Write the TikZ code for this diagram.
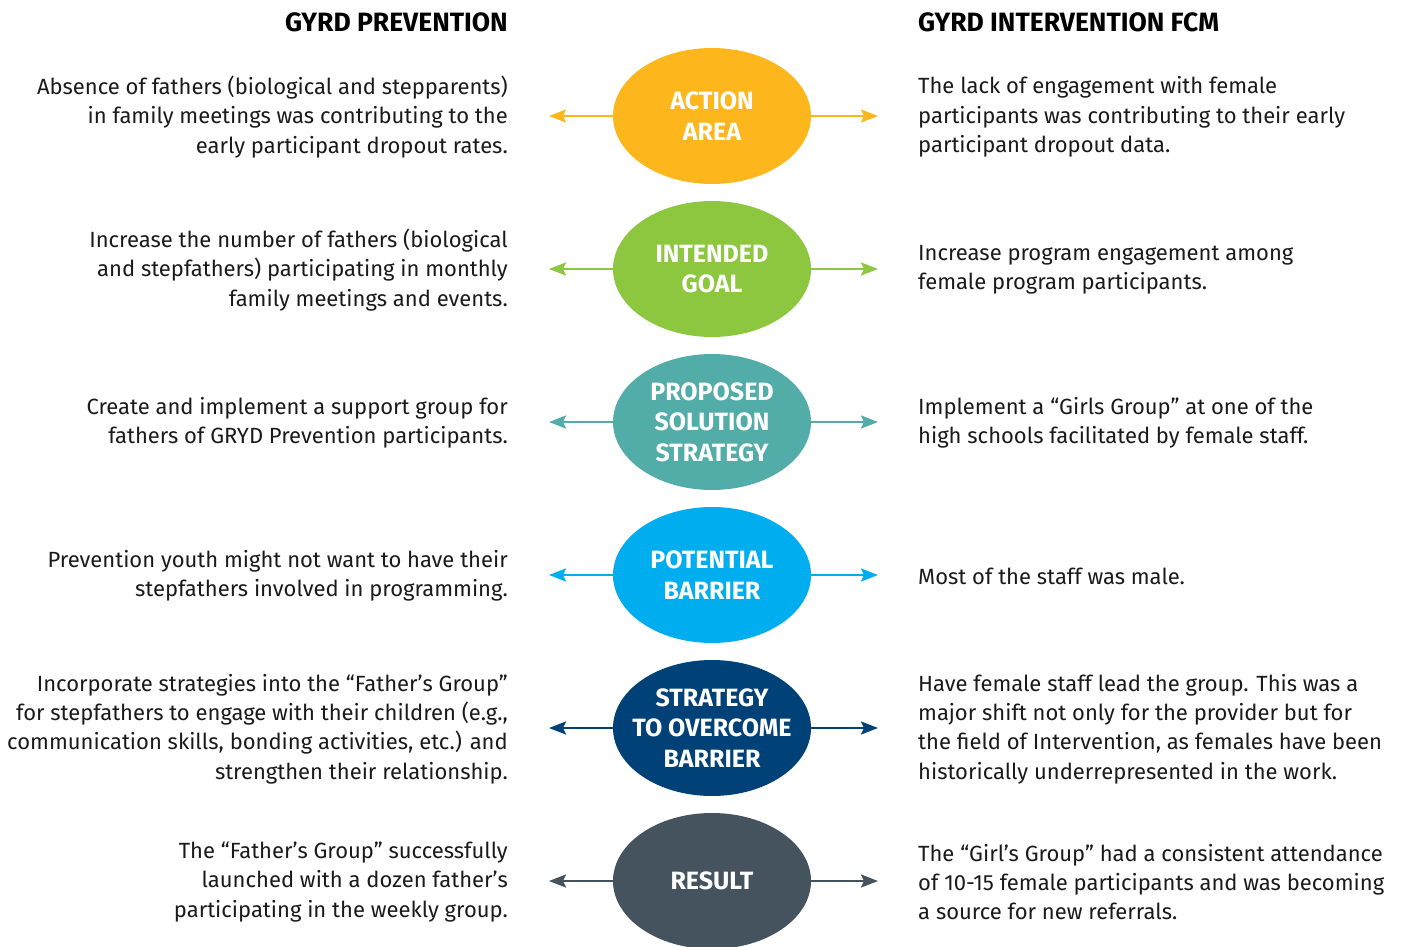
\documentclass[tikz,border=0pt]{standalone}
\usepackage{fontspec}
\setmainfont{Fira Sans}
\usetikzlibrary{arrows.meta,shapes.geometric}

\definecolor{cAction}{HTML}{FDB71C}
\definecolor{cGoal}{HTML}{8DC63F}
\definecolor{cSolution}{HTML}{52ADA8}
\definecolor{cBarrier}{HTML}{00AEEF}
\definecolor{cOvercome}{HTML}{004178}
\definecolor{cResult}{HTML}{45535E}
\definecolor{cText}{HTML}{1A1A1A}

\tikzset{
  % negative inner sep keeps every stage ellipse at the same size
  bubble/.style={ellipse, fill=#1, draw=none, minimum width=198pt, minimum height=136pt,
    inner xsep=-16pt, inner ysep=-6pt, text=white, align=center,
    font=\bfseries\fontsize{25}{30.5}\selectfont},
  lefttext/.style={anchor=east, align=right, inner sep=0pt, text=cText,
    font=\fontsize{22}{29.3}\selectfont},
  righttext/.style={anchor=west, align=left, inner sep=0pt, text=cText,
    font=\fontsize{22}{29.3}\selectfont},
  heading/.style={inner sep=0pt, text=black, font=\bfseries\fontsize{26.5}{30}\selectfont},
  link/.style={draw=#1, line width=2.3pt,
    -{Stealth[length=17pt,width=13pt,inset=3pt]}},
}

\begin{document}
\begin{tikzpicture}[x={(1pt,0pt)}, y={(0pt,-1pt)}]
\useasboundingbox (0,0) rectangle (1403,947);

% column headings
\node[heading, anchor=east] (hl) at (508,22) {GYRD PREVENTION};
\node[heading, anchor=west] (hr) at (918,22) {GYRD INTERVENTION FCM};

% central stages
\node[bubble=cAction]   (s1) at (712,116) {ACTION\\AREA};
\node[bubble=cGoal]     (s2) at (712,269) {INTENDED\\GOAL};
\node[bubble=cSolution] (s3) at (712,422) {PROPOSED\\SOLUTION\\STRATEGY};
\node[bubble=cBarrier]  (s4) at (712,575) {POTENTIAL\\BARRIER};
\node[bubble=cOvercome] (s5) at (712,728) {STRATEGY\\TO OVERCOME\\BARRIER};
\node[bubble=cResult]   (s6) at (712,881) {RESULT};

% arrow tips on both sides of each stage
\foreach \i/\y in {1/116,2/269,3/422,4/575,5/728,6/881}{
  \coordinate (l\i) at (549,\y);
  \coordinate (r\i) at (878,\y);
}
\draw[link=cAction]   (s1) -- (l1); \draw[link=cAction]   (s1) -- (r1);
\draw[link=cGoal]     (s2) -- (l2); \draw[link=cGoal]     (s2) -- (r2);
\draw[link=cSolution] (s3) -- (l3); \draw[link=cSolution] (s3) -- (r3);
\draw[link=cBarrier]  (s4) -- (l4); \draw[link=cBarrier]  (s4) -- (r4);
\draw[link=cOvercome] (s5) -- (l5); \draw[link=cOvercome] (s5) -- (r5);
\draw[link=cResult]   (s6) -- (l6); \draw[link=cResult]   (s6) -- (r6);

% GYRD Prevention column
\node[lefttext] (p1) at (508,117) {Absence of fathers (biological and stepparents)\\in family meetings was contributing to the\\early participant dropout rates.};
\node[lefttext] (p2) at (508,270) {Increase the number of fathers (biological\\and stepfathers) participating in monthly\\family meetings and events.};
\node[lefttext] (p3) at (508,423) {Create and implement a support group for\\fathers of GRYD Prevention participants.};
\node[lefttext] (p4) at (508,576) {Prevention youth might not want to have their\\stepfathers involved in programming.};
\node[lefttext] (p5) at (508,729) {Incorporate strategies into the “Father’s Group”\\for stepfathers to engage with their children (e.g.,\\communication skills, bonding activities, etc.) and\\strengthen their relationship.};
\node[lefttext] (p6) at (508,882) {The “Father’s Group” successfully\\launched with a dozen father’s\\participating in the weekly group.};

% GYRD Intervention FCM column
\node[righttext] (i1) at (918,117) {The lack of engagement with female\\participants was contributing to their early\\participant dropout data.};
\node[righttext] (i2) at (918,270) {Increase program engagement among\\female program participants.};
\node[righttext] (i3) at (918,423) {Implement a “Girls Group” at one of the\\high schools facilitated by female staff.};
\node[righttext] (i4) at (918,576) {Most of the staff was male.};
\node[righttext] (i5) at (918,729) {Have female staff lead the group. This was a\\major shift not only for the provider but for\\the field of Intervention, as females have been\\historically underrepresented in the work.};
\node[righttext] (i6) at (918,882) {The “Girl’s Group” had a consistent attendance\\of 10-15 female participants and was becoming\\a source for new referrals.};
\end{tikzpicture}
\end{document}
